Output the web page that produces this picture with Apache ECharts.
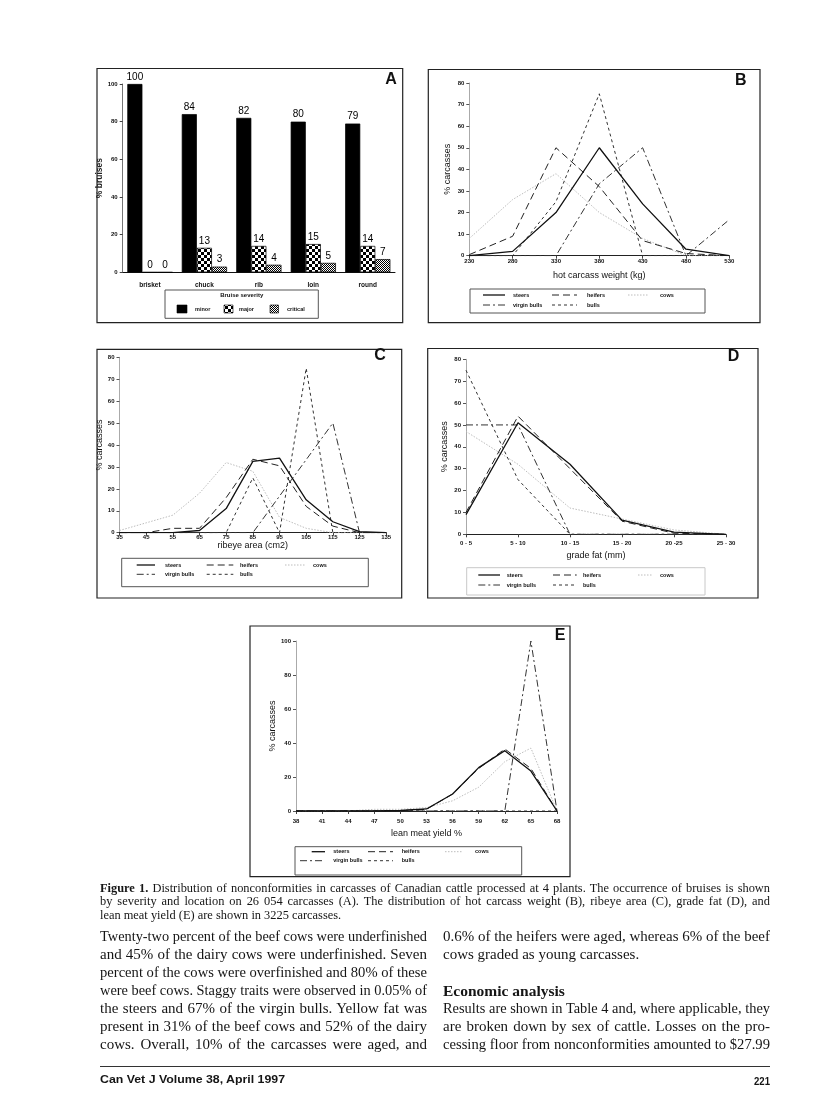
<!DOCTYPE html>
<html><head><meta charset="utf-8">
<script src="https://cdn.jsdelivr.net/npm/echarts@6/dist/echarts.min.js"></script>
<style>
html,body{margin:0;padding:0;background:#fff;}
#page{position:relative;width:816px;height:1105px;overflow:hidden;background:#fff;}
#chart{position:absolute;left:0;top:0;width:816px;height:1105px;}
.ln{position:absolute;white-space:nowrap;transform-origin:0 50%;color:#151515;line-height:1;}
</style></head><body>
<div id="page"><div id="chart"></div></div>
<script>
// ---------- DATA ----------
const bruiseLocations = ['brisket','chuck','rib','loin','round'];
const bruiseMinor    = [100,84,82,80,79];
const bruiseMajor    = [0,13,14,15,14];
const bruiseCritical = [0,3,4,5,7];

const weightCats         = ['230','280','330','380','430','480','530'];
const weightSteers       = [0,2,20,50,24,3,0];
const weightHeifers      = [0.5,9,50,32,7,1,0];
const weightCows         = [8,26,38,20,8,0,0];
const weightVirginBulls  = [0,0,0,33.3,50,0,16.7];
const weightBulls        = [0,0,25,75,0,0,0];

const ribeyeCats         = ['35','45','55','65','75','85','95','105','115','125','135'];
const ribeyeSteers       = [0,0,0,1,11,32.5,34,15,5,0.5,0];
const ribeyeHeifers      = [0,0,2,2,16,33.5,30.5,12,3,0,0];
const ribeyeCows         = [1,4.5,8,18,32,28,7,2,0,0,0];
const ribeyeVirginBulls  = [0,0,0,0,0,0,16.7,33.3,50,0,0];
const ribeyeBulls        = [0,0,0,0,0,25,0,75,0,0,0];

const fatCats            = ['0 - 5','5 - 10','10 - 15','15 - 20','20 -25','25 - 30'];
const fatSteers          = [9,51,32,6.5,1,0];
const fatHeifers         = [10,54,30,6,0.5,0];
const fatCows            = [47,32,12,7,2,0];
const fatVirginBulls     = [50,50,0,0,0,0];
const fatBulls           = [75,25,0,0,0,0];

const yieldCats          = ['38','41','44','47','50','53','56','59','62','65','68'];
const yieldSteers        = [0,0,0,0,0.3,1.2,10,25.5,35.5,23.5,0];
const yieldHeifers       = [0,0,0,0,0.3,1,10,25,36.5,25,0];
const yieldCows          = [0,0,0,1,1,2,6,14,29,37,0];
const yieldVirginBulls   = [0,0,0,0,0,0,0,0,0,100,0];
const yieldBulls         = [0,0,0,0,0,0,0,0,0,0,0];

const groupNames = ['steers','heifers','cows','virgin bulls','bulls'];
const severityNames = ['minor','major','critical'];

// ---------- STYLES ----------
const SANS = 'Liberation Sans, Arial, sans-serif';
const lineStyles = {
  'steers':       {color:'#111', width:1.3, type:'solid'},
  'heifers':      {color:'#222', width:1, type:[7,4]},
  'cows':         {color:'#bdbdbd', width:1, type:[1.5,1.5]},
  'virgin bulls': {color:'#333', width:1, type:[7,3,2,3]},
  'bulls':        {color:'#333', width:1, type:[3,3]}
};
function makePattern(size, draw){
  const c=document.createElement('canvas'); c.width=c.height=size;
  const g=c.getContext('2d'); draw(g); return c;
}
const checker = makePattern(6, g=>{g.fillStyle='#000';g.fillRect(0,0,6,6);g.fillStyle='#fff';g.fillRect(0,0,3,3);g.fillRect(3,3,3,3);});
const dither  = makePattern(2, g=>{g.fillStyle='#fff';g.fillRect(0,0,2,2);g.fillStyle='#000';g.fillRect(0,0,1,1);g.fillRect(1,1,1,1);});
const barFills = {minor:'#000', major:{image:checker,repeat:'repeat'}, critical:{image:dither,repeat:'repeat'}};

// ---------- LAYOUT ----------
const grids = [
  {left:122.7, top:84,    width:272.3, height:188.3},
  {left:469.3, top:83,    width:260,   height:172.7},
  {left:119.5, top:357.3, width:266.7, height:175.4},
  {left:466,   top:359.3, width:260,   height:175},
  {left:296,   top:641,   width:261,   height:170}
];
const linePanels = [
  {grid:1, cats:weightCats, values:{'steers':weightSteers,'heifers':weightHeifers,'cows':weightCows,'virgin bulls':weightVirginBulls,'bulls':weightBulls}, max:80, interval:10, xName:'hot carcass weight (kg)', xNameGap:15, yNameGap:17, labelMargin:3},
  {grid:2, cats:ribeyeCats, values:{'steers':ribeyeSteers,'heifers':ribeyeHeifers,'cows':ribeyeCows,'virgin bulls':ribeyeVirginBulls,'bulls':ribeyeBulls}, max:80, interval:10, xName:'ribeye area (cm2)', xNameGap:8, yNameGap:13, labelMargin:1.5},
  {grid:3, cats:fatCats, values:{'steers':fatSteers,'heifers':fatHeifers,'cows':fatCows,'virgin bulls':fatVirginBulls,'bulls':fatBulls}, max:80, interval:10, xName:'grade fat (mm)', xNameGap:17, yNameGap:16.5, labelMargin:6},
  {grid:4, cats:yieldCats, values:{'steers':yieldSteers,'heifers':yieldHeifers,'cows':yieldCows,'virgin bulls':yieldVirginBulls,'bulls':yieldBulls}, max:100, interval:20, xName:'lean meat yield %', xNameGap:18, yNameGap:16.5, labelMargin:7}
];

const xAxes=[], yAxes=[], series=[];
// Panel A
xAxes.push({type:'category', gridIndex:0, data:bruiseLocations, boundaryGap:true,
  axisLine:{lineStyle:{color:'#111',width:1}}, axisTick:{show:false},
  axisLabel:{fontSize:6.5, fontWeight:'bold', color:'#111', fontFamily:SANS, margin:9}});
yAxes.push({type:'value', gridIndex:0, min:0, max:100, interval:20,
  axisLine:{show:true, lineStyle:{color:'#777',width:1}}, axisTick:{show:true,length:3,lineStyle:{color:'#444'}},
  splitLine:{show:false}, axisLabel:{fontSize:6, fontWeight:'bold', color:'#111', fontFamily:SANS, margin:5},
  name:'% bruises', nameLocation:'middle', nameGap:16, nameTextStyle:{fontSize:8.5, fontWeight:'bold', color:'#222', fontFamily:SANS}});
const sevData = {minor:bruiseMinor, major:bruiseMajor, critical:bruiseCritical};
severityNames.forEach(n=>{
  series.push({type:'bar', name:n, xAxisIndex:0, yAxisIndex:0, data:sevData[n], barGap:'0%', barCategoryGap:'17%',
    itemStyle:{color:barFills[n], borderColor:'#000', borderWidth:0.7},
    label:{show:true, position:'top', distance:2, fontSize:10, color:'#000', fontFamily:SANS}});
});
// Line panels
linePanels.forEach(p=>{
  const xi = xAxes.length;
  xAxes.push({type:'category', gridIndex:p.grid, data:p.cats, boundaryGap:false,
    axisLine:{lineStyle:{color:'#222',width:1}}, axisTick:{show:true,length:3,lineStyle:{color:'#444'}},
    axisLabel:{fontSize:6, fontWeight:'bold', color:'#111', fontFamily:SANS, margin:p.labelMargin, interval:0},
    name:p.xName, nameLocation:'middle', nameGap:p.xNameGap, nameTextStyle:{fontSize:9, color:'#111', fontFamily:SANS}});
  yAxes.push({type:'value', gridIndex:p.grid, min:0, max:p.max, interval:p.interval,
    axisLine:{show:true, lineStyle:{color:'#aaa',width:1}}, axisTick:{show:true,length:3,lineStyle:{color:'#555'}},
    splitLine:{show:false}, axisLabel:{fontSize:6, fontWeight:'bold', color:'#111', fontFamily:SANS, margin:5},
    name:'% carcasses', nameLocation:'middle', nameGap:p.yNameGap, nameTextStyle:{fontSize:9, color:'#111', fontFamily:SANS}});
  ['cows','virgin bulls','bulls','heifers','steers'].forEach(k=>{
    const s=lineStyles[k];
    series.push({type:'line', name:k, xAxisIndex:xi, yAxisIndex:xi, data:p.values[k], symbol:'none', silent:true,
      lineStyle:{color:s.color, width:s.width, type:s.type}, z: k==='steers'?5:3});
  });
});

// ---------- DECORATION (boxes, letters, legends) ----------
const G=[];
function box(x,y,w,h,stroke,lw){G.push({type:'rect',shape:{x,y,width:w,height:h},style:{fill:'none',stroke:stroke||'#222',lineWidth:lw||1.2},silent:true});}
function txt(t,x,y,font,align,color){G.push({type:'text',x,y,style:{text:t,font:font,textAlign:align||'left',textVerticalAlign:'middle',fill:color||'#111'},silent:true});}
function seg(x1,x2,y,k){const s=lineStyles[k];G.push({type:'line',shape:{x1,y1:y,x2,y2:y},style:{stroke:s.color,lineWidth:s.width,lineDash:Array.isArray(s.type)?s.type:null},silent:true});}
// panel boxes
box(97,68.5,305.7,254.2);
box(428.3,69.5,331.7,253.2);
box(97,349.3,304.7,248.7);
box(427.7,348.5,330.3,249.5);
box(250,626,320,250.7);
// letters
const LF='bold 16px '+SANS;
txt('A',391,79.5,LF,'center'); txt('B',740.8,81,LF,'center'); txt('C',380,356,LF,'center');
txt('D',733.5,357,LF,'center'); txt('E',560,635.5,LF,'center');
// legend A
const LEGF='bold 5.5px '+SANS;
box(165,290,153.3,28.3,'#555',1);
txt('Bruise severity',241.7,295.5,'bold 6px '+SANS,'center');
[[177,10,'minor',195],[224,9,'major',239],[270,8.5,'critical',287]].forEach(([x,w,n,tx])=>{
  G.push({type:'rect',shape:{x,y:305,width:w,height:8},style:{fill:barFills[n],stroke:'#000',lineWidth:0.6},silent:true});
  txt(n,tx,309.5,LEGF);
});
// line legends
function lineLegend(bx,items,border){
  box(bx[0],bx[1],bx[2],bx[3],border||'#555',1);
  items.forEach(it=>{seg(it[1],it[2],it[4],it[0]); txt(it[0],it[3],it[4],LEGF);});
}
lineLegend([470,289,235,24],[
  ['steers',483,505,513,295],['heifers',552,577,587,295],['cows',628,648,660,295],
  ['virgin bulls',483,505,513,305],['bulls',552,577,587,305]]);
lineLegend([121.7,558.3,246.6,28.4],[
  ['steers',136.7,155,165,565],['heifers',206.7,233.3,240,565],['cows',285,305,313,565],
  ['virgin bulls',136.7,155,165,574.3],['bulls',206.7,233.3,240,574.3]]);
lineLegend([466.7,567.7,238.3,27.3],[
  ['steers',478.3,500,506.7,575],['heifers',553,576.7,583,575],['cows',638,651.7,660,575],
  ['virgin bulls',478.3,500,506.7,585],['bulls',553,576.7,583,585]],'#c8c8c8');
lineLegend([295,846.7,226.7,28.3],[
  ['steers',311.7,325,333.3,851.7],['heifers',368,393,401.7,851.7],['cows',445,461.7,475,851.7],
  ['virgin bulls',300,325,333.3,860.7],['bulls',368,393,401.7,860.7]]);

const chart = echarts.init(document.getElementById('chart'), null, {renderer:'canvas', width:816, height:1105});
chart.setOption({
  animation:false, backgroundColor:'transparent',
  grid:grids.map(g=>Object.assign({containLabel:false},g)),
  xAxis:xAxes, yAxis:yAxes, series:series,
  graphic:{elements:G}
});

// ---------- PAGE TEXT ----------
const page=document.getElementById('page');
const SERIF='"Liberation Serif","Times New Roman",serif';
function line(o){
  const el=document.createElement('div'); el.className='ln';
  el.innerHTML=o.html;
  el.style.fontFamily=o.font||SERIF; el.style.fontSize=o.size+'px';
  if(o.bold) el.style.fontWeight='bold';
  el.style.left=o.x+'px'; el.style.top=(o.y-o.size*0.61)+'px';
  page.appendChild(el);
  const w=el.getBoundingClientRect().width;
  if(o.w){
    const n=(el.textContent.match(/ /g)||[]).length;
    if(o.mode==='justify' && w<o.w && n>0){ el.style.wordSpacing=((o.w-w)/n)+'px'; }
    else { el.style.transform='scaleX('+(o.w/w)+')'; }
  }
}
const capSize=12.4;
[
 {html:'<b>Figure 1.</b> Distribution of nonconformities in carcasses of Canadian cattle processed at 4 plants. The occurrence of bruises is shown', y:889.5, w:670, mode:'justify'},
 {html:'by severity and location on 26 054 carcasses (A). The distribution of hot carcass weight (B), ribeye area (C), grade fat (D), and', y:903, w:670, mode:'justify'},
 {html:'lean meat yield (E) are shown in 3225 carcasses.', y:916.5}
].forEach(o=>line(Object.assign({x:100,size:capSize},o)));

const bodySize=15;
const leftCol=[
 'Twenty-two percent of the beef cows were underfinished',
 'and 45% of the dairy cows were underfinished. Seven',
 'percent of the cows were overfinished and 80% of these',
 'were beef cows. Staggy traits were observed in 0.05% of',
 'the steers and 67% of the virgin bulls. Yellow fat was',
 'present in 31% of the beef cows and 52% of the dairy',
 'cows. Overall, 10% of the carcasses were aged, and'];
const rowY=[938,956,974,992,1010,1028,1046];
leftCol.forEach((t,i)=>line({html:t,x:100,y:rowY[i],size:bodySize,w:327,mode:'justify'}));
line({html:'0.6% of the heifers were aged, whereas 6% of the beef',x:443,y:rowY[0],size:bodySize,w:327,mode:'justify'});
line({html:'cows graded as young carcasses.',x:443,y:rowY[1],size:bodySize});
line({html:'Economic analysis',x:443,y:rowY[3],size:15.5,bold:true});
line({html:'Results are shown in Table 4 and, where applicable, they',x:443,y:rowY[4],size:bodySize,w:327,mode:'justify'});
line({html:'are broken down by sex of cattle. Losses on the pro-',x:443,y:rowY[5],size:bodySize,w:327,mode:'justify'});
line({html:'cessing floor from nonconformities amounted to $27.99',x:443,y:rowY[6],size:bodySize,w:327,mode:'justify'});

// footer
const rule=document.createElement('div');
rule.style.cssText='position:absolute;left:100px;top:1065.5px;width:670px;height:1.2px;background:#333;';
page.appendChild(rule);
line({html:'Can Vet J Volume 38, April 1997',x:100,y:1081,size:11,bold:true,font:SANS,w:185});
line({html:'221',x:754,y:1083,size:11,bold:true,font:SANS,w:16});
</script>
</body></html>
